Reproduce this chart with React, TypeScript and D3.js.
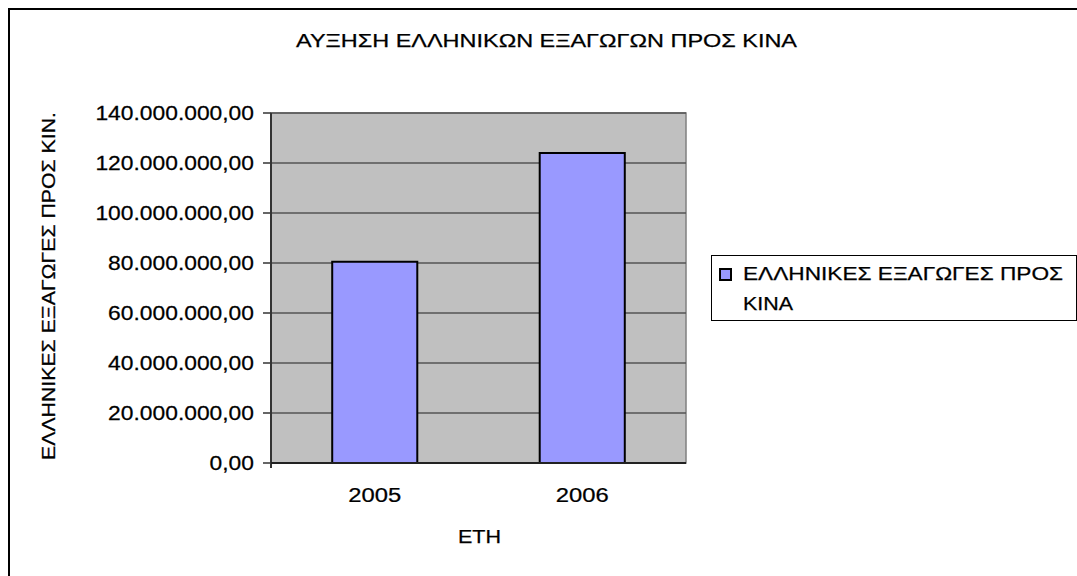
import * as d3 from 'd3'

const years = ['2005', '2006']
const exportsToChina = [80500000, 124000000]
const yTicks = [0, 20000000, 40000000, 60000000, 80000000, 100000000, 120000000, 140000000]

const title = 'ΑΥΞΗΣΗ ΕΛΛΗΝΙΚΩΝ ΕΞΑΓΩΓΩΝ ΠΡΟΣ ΚΙΝΑ'
const yTitle = 'ΕΛΛΗΝΙΚΕΣ ΕΞΑΓΩΓΕΣ ΠΡΟΣ ΚΙΝ.'
const xTitle = 'ΕΤΗ'
const legendLines = ['ΕΛΛΗΝΙΚΕΣ ΕΞΑΓΩΓΕΣ ΠΡΟΣ', 'ΚΙΝΑ']

const W = 1077
const H = 576
const font = '"Liberation Sans", Arial, sans-serif'

const grFormat = d3
  .formatLocale({ decimal: ',', thousands: '.', grouping: [3], currency: ['', '€'] })
  .format(',.2f')

export default function App() {
  const plot = { left: 271, right: 686, top: 113, bottom: 463 }

  const x = d3.scaleBand().domain(years).range([plot.left, plot.right]).padding(0)
  const y = d3.scaleLinear().domain([0, 140000000]).range([plot.bottom, plot.top])
  const barW = x.bandwidth() * 0.41

  return (
    <svg
      width={W}
      height={H}
      style={{ position: 'fixed', left: 0, top: 0, display: 'block', background: '#fff' }}
      fontFamily={font}
      stroke="none"
    >
      {/* outer chart frame, cut off by the screenshot */}
      <rect x={9} y={9} width={W + 20} height={H + 20} fill="none" stroke="#000" strokeWidth={2} />

      <g stroke="#000" strokeWidth={0.25}>
        <text x={296} y={47} fontSize={19} textLength={501} lengthAdjust="spacingAndGlyphs">
          {title}
        </text>
      </g>

      {/* plot area */}
      <rect
        x={plot.left}
        y={plot.top}
        width={plot.right - plot.left}
        height={plot.bottom - plot.top}
        fill="#c0c0c0"
        stroke="#808080"
        strokeWidth={1.5}
      />

      {yTicks.map((t) => (
        <g key={t}>
          {t > 0 && (
            <line x1={plot.left} x2={plot.right} y1={y(t)} y2={y(t)} stroke="#555" strokeWidth={1.5} />
          )}
          <line x1={plot.left - 8} x2={plot.left} y1={y(t)} y2={y(t)} stroke="#333" strokeWidth={1.5} />
          <text
            transform={`translate(${plot.left - 17},${y(t) + 7}) scale(1.17,1)`}
            fontSize={19.5}
            textAnchor="end"
            stroke="#000"
            strokeWidth={0.25}
          >
            {grFormat(t)}
          </text>
        </g>
      ))}

      {years.map((yr, i) => {
        const cx = (x(yr) ?? 0) + x.bandwidth() / 2
        return (
          <g key={yr}>
            <rect
              x={cx - barW / 2}
              y={y(exportsToChina[i])}
              width={barW}
              height={plot.bottom - y(exportsToChina[i])}
              fill="#9999ff"
              stroke="#000"
              strokeWidth={2}
            />
            <text
              transform={`translate(${cx},${502}) scale(1.22,1)`}
              fontSize={19.5}
              textAnchor="middle"
              stroke="#000"
              strokeWidth={0.25}
            >
              {yr}
            </text>
          </g>
        )
      })}

      {/* axes */}
      <line x1={plot.left} x2={plot.left} y1={plot.top} y2={plot.bottom + 5} stroke="#333" strokeWidth={2} />
      <line x1={plot.left} x2={plot.right} y1={plot.bottom} y2={plot.bottom} stroke="#222" strokeWidth={2} />

      <g stroke="#000" strokeWidth={0.25}>
        <text
          transform={`translate(55,286) rotate(-90)`}
          fontSize={19}
          textAnchor="middle"
          textLength={348}
          lengthAdjust="spacingAndGlyphs"
        >
          {yTitle}
        </text>

        <text x={458} y={543} fontSize={19} textLength={43} lengthAdjust="spacingAndGlyphs">
          {xTitle}
        </text>
      </g>

      {/* legend */}
      <rect x={711.5} y={255.5} width={365} height={65} fill="#fff" stroke="#000" strokeWidth={1} />
      <rect x={720} y={269} width={11} height={11} fill="#9999ff" stroke="#000" strokeWidth={2} />
      <g stroke="#000" strokeWidth={0.25}>
        <text x={743} y={280} fontSize={18} textLength={320} lengthAdjust="spacingAndGlyphs">
          {legendLines[0]}
        </text>
        <text x={743} y={310} fontSize={18} textLength={50} lengthAdjust="spacingAndGlyphs">
          {legendLines[1]}
        </text>
      </g>
    </svg>
  )
}
